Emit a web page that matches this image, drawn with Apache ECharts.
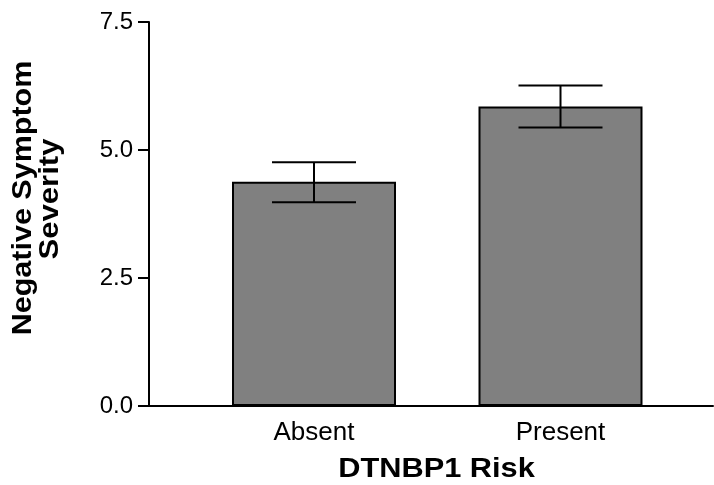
<!DOCTYPE html>
<html>
<head>
<meta charset="utf-8">
<script src="https://cdn.jsdelivr.net/npm/echarts@6/dist/echarts.min.js"></script>
<style>
html,body{margin:0;padding:0;background:#fff;}
#c{width:714px;height:485px;}
</style>
</head>
<body>
<div id="c"></div>
<script>
var categories = ['Absent', 'Present'];
var means = [4.38, 5.85];
var errLow = [3.98, 5.44];
var errHigh = [4.76, 6.26];
var yTicks = [0, 2.5, 5.0, 7.5];
var yTitleLines = ['Negative Symptom', 'Severity'];
var xTitle = 'DTNBP1 Risk';

var FONT = 'Liberation Sans, Arial, Helvetica, sans-serif';
var chart = echarts.init(document.getElementById('c'), null, {renderer: 'canvas'});

var errData = categories.map(function (c, i) { return [i, errLow[i], errHigh[i]]; });

var option = {
  animation: false,
  backgroundColor: '#fff',
  grid: [
    {left: 149, right: 1, top: 22, bottom: 79},
    {left: 190.75, width: 493, top: 22, bottom: 79}
  ],
  xAxis: [
    {gridIndex: 0, type: 'value', min: 0, max: 1,
     axisLine: {show: true, lineStyle: {color: '#000', width: 2}},
     axisTick: {show: false}, axisLabel: {show: false}, splitLine: {show: false}},
    {gridIndex: 1, type: 'category', data: categories,
     axisLine: {show: false}, axisTick: {show: false},
     axisLabel: {color: '#000', fontSize: 26, fontFamily: FONT, margin: 14}}
  ],
  yAxis: [
    {gridIndex: 0, type: 'value', min: yTicks[0], max: yTicks[yTicks.length - 1], interval: 2.5,
     axisLine: {show: true, lineStyle: {color: '#000', width: 2}},
     axisTick: {show: true, length: 11, lineStyle: {color: '#000', width: 2}},
     axisLabel: {color: '#000', fontSize: 24, fontFamily: FONT, margin: 16,
                 formatter: function (v) { return v.toFixed(1); }},
     splitLine: {show: false}},
    {gridIndex: 1, type: 'value', min: yTicks[0], max: yTicks[yTicks.length - 1], show: false}
  ],
  series: [
    {type: 'bar', xAxisIndex: 1, yAxisIndex: 1, data: means, barWidth: 164,
     itemStyle: {color: '#808080', borderColor: '#000', borderWidth: 2}},
    {type: 'custom', xAxisIndex: 1, yAxisIndex: 1, data: errData, z: 10,
     renderItem: function (params, api) {
       var x = api.value(0);
       var lo = api.coord([x, api.value(1)]);
       var hi = api.coord([x, api.value(2)]);
       var hw = 42;
       var st = {stroke: '#000', lineWidth: 2};
       return {type: 'group', children: [
         {type: 'line', shape: {x1: hi[0], y1: hi[1], x2: lo[0], y2: lo[1]}, style: st},
         {type: 'line', shape: {x1: hi[0] - hw, y1: hi[1], x2: hi[0] + hw, y2: hi[1]}, style: st},
         {type: 'line', shape: {x1: lo[0] - hw, y1: lo[1], x2: lo[0] + hw, y2: lo[1]}, style: st}
       ]};
     }}
  ],
  graphic: [
    {type: 'text', x: 23.5, y: 198, rotation: Math.PI / 2, scaleX: 1.13,
     style: {text: yTitleLines[0], font: 'bold 27px ' + FONT, fill: '#000', textAlign: 'center', textVerticalAlign: 'middle'}},
    {type: 'text', x: 50.5, y: 199, rotation: Math.PI / 2, scaleX: 1.15,
     style: {text: yTitleLines[1], font: 'bold 27px ' + FONT, fill: '#000', textAlign: 'center', textVerticalAlign: 'middle'}},
    {type: 'text', x: 436.5, y: 469.5, scaleX: 1.14,
     style: {text: xTitle, font: 'bold 27px ' + FONT, fill: '#000', textAlign: 'center', textVerticalAlign: 'middle'}}
  ]
};
chart.setOption(option);
</script>
</body>
</html>
